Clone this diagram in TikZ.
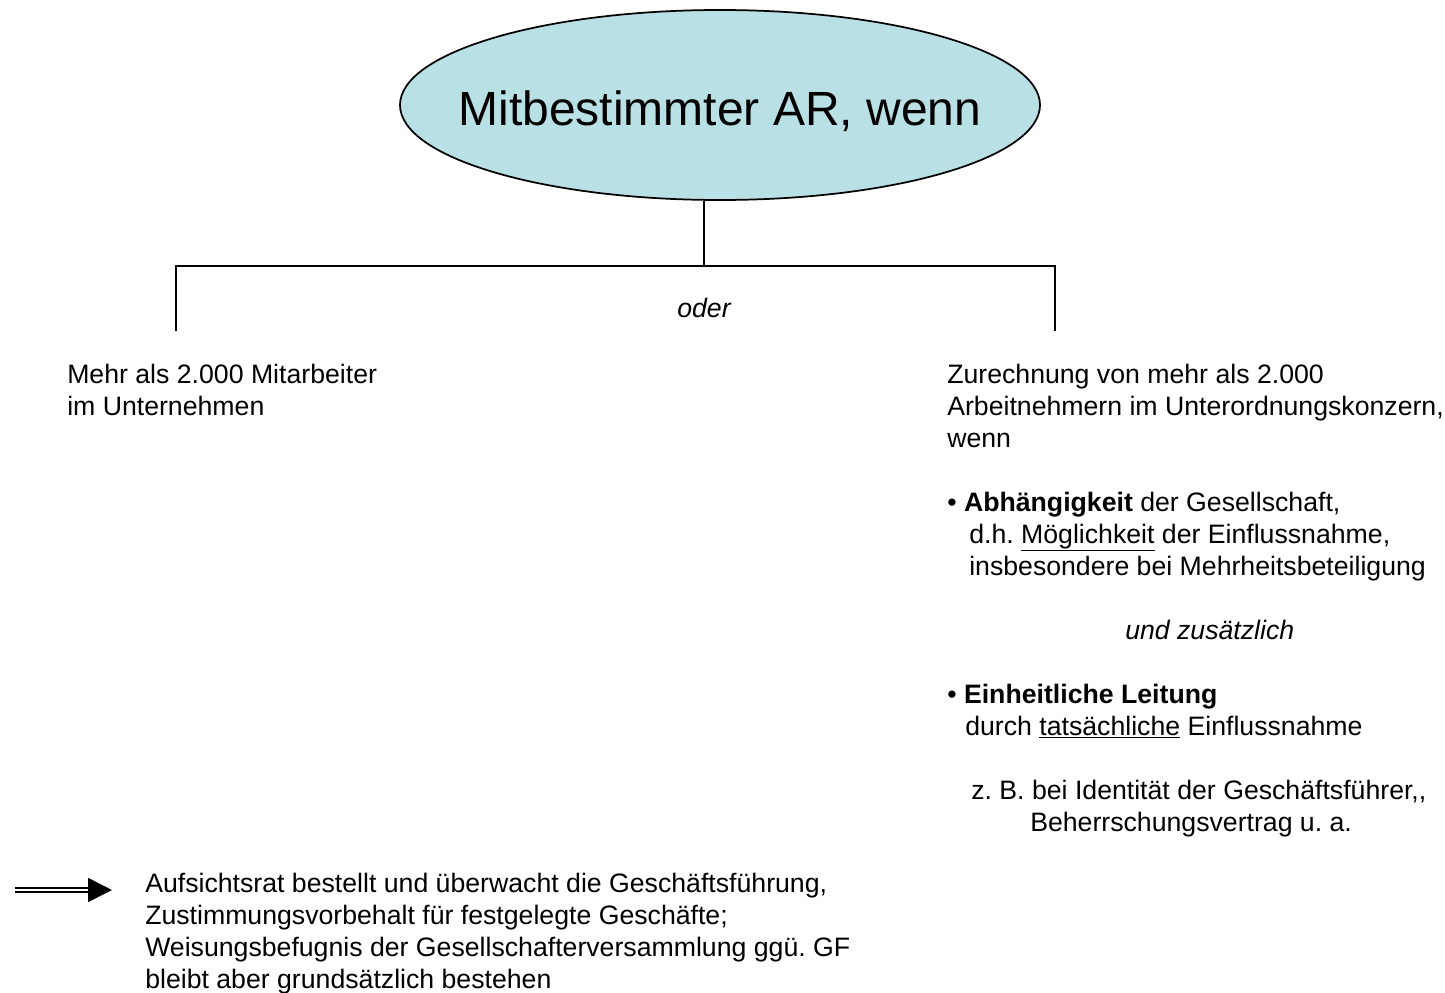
\documentclass[tikz,border=0pt]{standalone}
\usepackage{fontspec}
\setmainfont{Liberation Sans}
\usetikzlibrary{positioning,shapes.geometric,arrows.meta}
\definecolor{arblue}{RGB}{185,224,228}
\frenchspacing

\begin{document}
\begin{tikzpicture}[x=0.75pt,y=-0.75pt,
  every node/.style={inner sep=0pt, font=\fontsize{20}{24}\selectfont},
  txt/.style={anchor=base west, align=left},
  conn/.style={line width=1.3pt},
  ]
  \useasboundingbox (0,0) rectangle (1445,992);

  % Kopf
  \node [ellipse, draw, line width=1.3pt, fill=arblue, minimum width=480pt, minimum height=142.5pt] (head) at (720,105) {};
  \node [font=\fontsize{36}{43}\selectfont, anchor=base] (title) at (720,125) {Mitbestimmter AR, wenn};

  % Verzweigung
  \coordinate (split) at (704,266);
  \coordinate (lft) at (176,266);
  \coordinate (rgt) at (1055,266);
  \coordinate (lftend) at (176,331);
  \coordinate (rgtend) at (1055,331);
  \draw[conn] (split |- head.south) -- (split);
  \draw[conn] (lftend) -- (lft) -- (rgt) -- (rgtend);
  \node [font=\fontsize{20}{24}\selectfont\itshape, anchor=base] (oder) at (704,317) {oder};

  % linker Zweig (base = letzte Zeile)
  \node [txt] (mitarb) at (67,415) {Mehr als 2.000 Mitarbeiter\\im Unternehmen};

  % rechter Zweig
  \node [txt] (zurech) at (947,447) {Zurechnung von mehr als 2.000\\Arbeitnehmern im Unterordnungskonzern,\\wenn};
  \node [txt] (abh) at (947,575) {• \textbf{Abhängigkeit} der Gesellschaft,\\
    \hspace*{16.5pt}d.h. \underline{Möglichkeit} der Einflussnahme,\\
    \hspace*{16.5pt}insbesondere bei Mehrheitsbeteiligung};
  \node [txt, font=\fontsize{20}{24}\selectfont\itshape] (undzus) at (1125,639) {und zusätzlich};
  \node [txt] (leit) at (947,735) {• \textbf{Einheitliche Leitung}\\
    \hspace*{13.5pt}durch \underline{tatsächliche} Einflussnahme};
  \node [txt] (bsp) at (971,831) {z. B. bei Identität der Geschäftsführer,\kern0pt,\\
    \hspace*{44.25pt}Beherrschungsvertrag u. a.};

  % Folge
  \coordinate (arrstart) at (15,890);
  \coordinate (arrtip) at (112,890);
  \draw[double, line width=1.2pt, double distance=1.6pt, -{Triangle[length=18pt,width=18pt]}] (arrstart) -- (arrtip);
  \node [txt] (folge) at (145,988) {Aufsichtsrat bestellt und überwacht die Geschäftsführung,\\
    Zustimmungsvorbehalt für festgelegte Geschäfte;\\
    Weisungsbefugnis der Gesellschafterversammlung ggü. GF\\
    bleibt aber grundsätzlich bestehen};
\end{tikzpicture}
\end{document}
